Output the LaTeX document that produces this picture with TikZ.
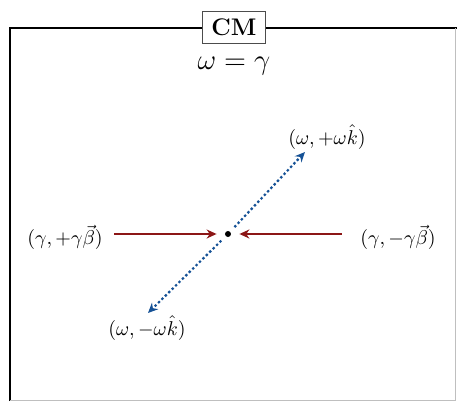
\documentclass[tikz,border=0pt]{standalone}
\usepackage{amsmath,amssymb}
\usetikzlibrary{arrows.meta,positioning}
\definecolor{cbeam}{RGB}{140,22,22}
\definecolor{cphot}{RGB}{22,82,150}
\tikzset{
  framebox/.style={line width=1.3pt},
  tagbox/.style={draw=black!70, fill=white, line width=0.5pt, minimum width=31.5pt,
                 minimum height=16pt, inner sep=2pt, font=\large\bfseries},
  lbl/.style={inner sep=1pt},
  beam/.style={-{Stealth[length=5pt,width=4.5pt]}, draw=cbeam, line width=0.9pt},
  phot/.style={-{Stealth[length=5pt,width=4.5pt]}, draw=cphot, line width=1.1pt,
               dash pattern=on 1.2pt off 1.2pt},
}
\begin{document}
\begin{tikzpicture}[x=0.5pt, y=-0.5pt]
  \useasboundingbox (0,0) rectangle (457,402);
  % frame
  \draw[framebox] (10,401) |- (457,28);
  \draw[black!25, line width=0.5pt] (456,28) |- (10,400);
  \node[tagbox] (cm) at (234,27) {CM};
  \node[lbl] (eq) at (234,66) {\Large $\omega=\gamma$};
  % collision point
  \node[circle, fill=black, inner sep=0pt, minimum size=3pt] (o) at (228,234) {};
  \node[lbl] (inL) at (65,237) {$(\gamma,+\gamma\vec{\beta})$};
  \node[lbl] (inR) at (398,237) {$(\gamma,-\gamma\vec{\beta})$};
  \coordinate (tu) at (305,152);
  \coordinate (td) at (148,313);
  \node[lbl] (outU) at (327,137) {$(\omega,+\omega\hat{k})$};
  \node[lbl] (outD) at (147,328) {$(\omega,-\omega\hat{k})$};
  \draw[beam] ([xshift=4.5pt]inL.east |- o) -- ([xshift=-4pt]o.west);
  \draw[beam] ([xshift=-8pt]inR.west |- o) -- ([xshift=4pt]o.east);
  \draw[phot, shorten <=3pt] (o) -- (tu);
  \draw[phot, shorten <=3pt] (o) -- (td);
\end{tikzpicture}
\end{document}
